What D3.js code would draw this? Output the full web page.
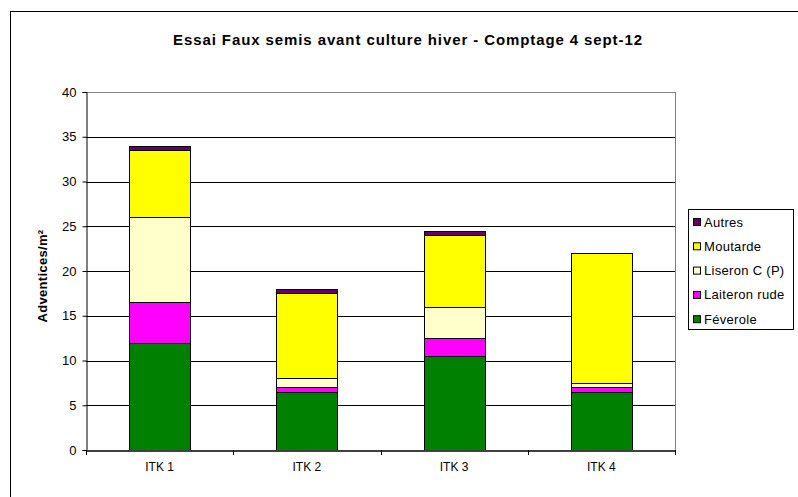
<!DOCTYPE html>
<html>
<head>
<meta charset="utf-8">
<script src="https://cdn.jsdelivr.net/npm/d3@7"></script>
<style>
  body { margin: 0; background: #fff; }
  svg text { font-family: Arial, "Liberation Sans", sans-serif; }
</style>
</head>
<body>
<div id="chart"></div>
<script>
const categories = ["ITK 1", "ITK 2", "ITK 3", "ITK 4"];
const seriesNames = ["Féverole", "Laiteron rude", "Liseron C (P)", "Moutarde", "Autres"];
const feverole = [12, 6.5, 10.5, 6.5];
const laiteron = [4.5, 0.5, 2, 0.5];
const liseron = [9.5, 1, 3.5, 0.5];
const moutarde = [7.5, 9.5, 8, 14.5];
const autres = [0.5, 0.5, 0.5, 0];
const yTicks = [0, 5, 10, 15, 20, 25, 30, 35, 40];
const colors = ["#008000", "#ff00ff", "#ffffcc", "#ffff00", "#660066"];

const width = 798, height = 497;
const plot = { left: 86, top: 92, right: 675, bottom: 450 };

const svg = d3.select("#chart").append("svg")
    .attr("width", width)
    .attr("height", height);

// chart area border (runs off the right and bottom)
svg.append("rect")
    .attr("x", 10.5).attr("y", 11.5)
    .attr("width", 800).attr("height", 500)
    .attr("fill", "#fff")
    .attr("stroke", "#000");

svg.append("text")
    .attr("x", 408).attr("y", 45)
    .attr("text-anchor", "middle")
    .style("font-size", "15px")
    .style("font-weight", "bold")
    .style("letter-spacing", "0.9px")
    .text("Essai Faux semis avant culture hiver - Comptage 4 sept-12");

const x = d3.scaleBand()
    .domain(categories)
    .range([plot.left, plot.right])
    .paddingInner(0.586)
    .paddingOuter(0.293);

const y = d3.scaleLinear()
    .domain([0, 40])
    .range([plot.bottom, plot.top]);

// gridlines
svg.append("g")
    .selectAll("line")
    .data(yTicks.filter(d => d > 0))
    .join("line")
    .attr("x1", plot.left).attr("x2", plot.right)
    .attr("y1", d => Math.round(y(d)) + 0.5)
    .attr("y2", d => Math.round(y(d)) + 0.5)
    .attr("stroke", d => d === 40 ? "#808080" : "#000");

// plot area right border
svg.append("line")
    .attr("x1", plot.right + 0.5).attr("x2", plot.right + 0.5)
    .attr("y1", plot.top).attr("y2", plot.bottom)
    .attr("stroke", "#808080");

// stacked bars
const table = categories.map((c, i) => ({
    cat: c,
    "Féverole": feverole[i],
    "Laiteron rude": laiteron[i],
    "Liseron C (P)": liseron[i],
    "Moutarde": moutarde[i],
    "Autres": autres[i]
}));
const stacked = d3.stack().keys(seriesNames)(table);

svg.append("g")
    .selectAll("g")
    .data(stacked)
    .join("g")
    .attr("fill", (d, i) => colors[i])
    .selectAll("rect")
    .data(d => d.filter(p => p[1] - p[0] > 0))
    .join("rect")
    .attr("x", d => Math.round(x(d.data.cat)) + 0.5)
    .attr("y", d => Math.round(y(d[1])) + 0.5)
    .attr("width", Math.round(x.bandwidth()))
    .attr("height", d => Math.round(y(d[0])) - Math.round(y(d[1])))
    .attr("stroke", "#000")
    .attr("stroke-width", 1);

// y axis
const yAxis = svg.append("g")
    .attr("transform", `translate(${plot.left + 0.5},0)`)
    .call(d3.axisLeft(y).tickValues(yTicks).tickSize(4).tickPadding(6));
yAxis.select(".domain").attr("stroke", "#000");
yAxis.selectAll("text").style("font-size", "13px").attr("fill", "#000");

// x axis
const xAxis = svg.append("g")
    .attr("transform", `translate(0,${plot.bottom + 0.5})`)
    .call(d3.axisBottom(x).tickSize(0).tickPadding(12));
xAxis.select(".domain").attr("stroke", "#404040").attr("stroke-width", 2);
xAxis.selectAll("text").style("font-size", "12px").attr("fill", "#000");

// category separator ticks
const step = x.step();
svg.append("g")
    .selectAll("line")
    .data(d3.range(categories.length + 1))
    .join("line")
    .attr("x1", i => Math.round(plot.left + i * step) + 0.5)
    .attr("x2", i => Math.round(plot.left + i * step) + 0.5)
    .attr("y1", plot.bottom)
    .attr("y2", plot.bottom + 5)
    .attr("stroke", "#000");

svg.append("text")
    .attr("transform", `translate(47,${(plot.top + plot.bottom) / 2 + 5}) rotate(-90)`)
    .attr("text-anchor", "middle")
    .style("font-size", "13px")
    .style("font-weight", "bold")
    .style("letter-spacing", "0.3px")
    .text("Adventices/m²");

// legend
const legend = svg.append("g");
legend.append("rect")
    .attr("x", 688.5).attr("y", 209.5)
    .attr("width", 105).attr("height", 120)
    .attr("fill", "#fff")
    .attr("stroke", "#000");

const order = seriesNames.map((n, i) => i).reverse();
const item = legend.selectAll("g.item")
    .data(order)
    .join("g")
    .attr("class", "item")
    .attr("transform", (d, k) => `translate(693,${222 + k * 24.3})`);
item.append("rect")
    .attr("x", 0.5).attr("y", -3.5)
    .attr("width", 7).attr("height", 7)
    .attr("fill", d => colors[d])
    .attr("stroke", "#000");
item.append("text")
    .attr("x", 11).attr("y", 4.5)
    .style("font-size", "13px")
    .style("letter-spacing", "0.3px")
    .text(d => seriesNames[d]);
</script>
</body>
</html>
